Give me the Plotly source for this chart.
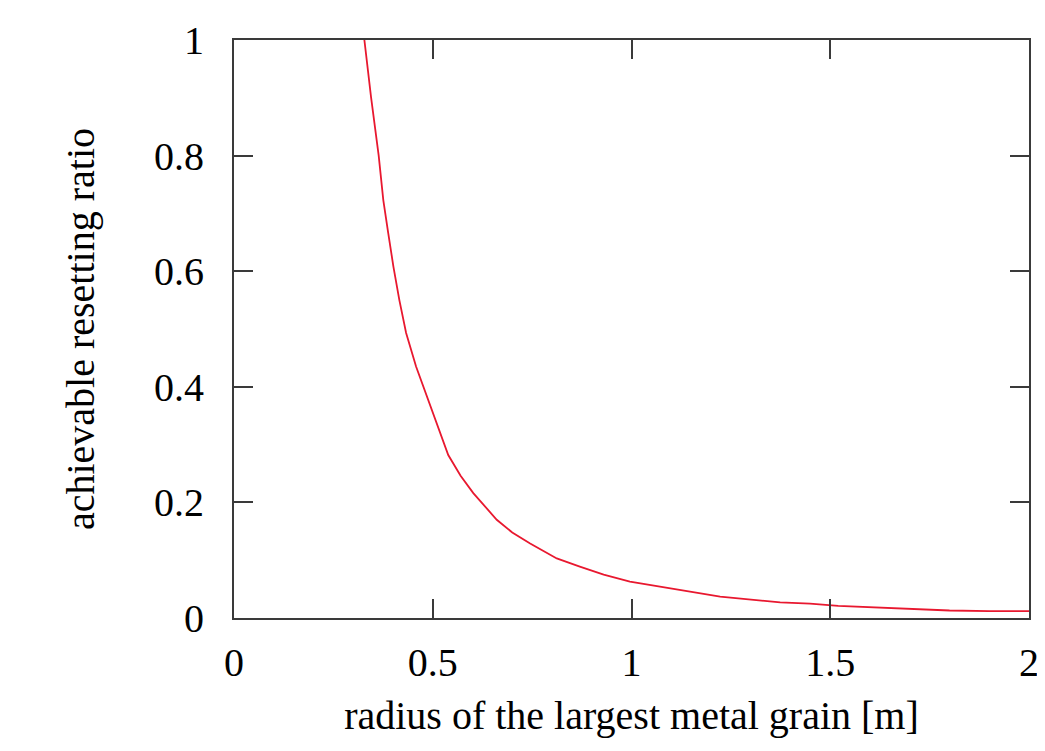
import plotly.graph_objects as go

radius = [0.328, 0.345, 0.364, 0.3756, 0.388, 0.401, 0.416, 0.433, 0.458, 0.489, 0.518,
          0.539, 0.570, 0.602, 0.661, 0.700, 0.745, 0.812, 0.870, 0.930, 0.996, 1.1,
          1.223, 1.374, 1.449, 1.52, 1.65, 1.8, 1.9, 2.0]
ratio = [1.0, 0.9, 0.8, 0.723, 0.666, 0.608, 0.550, 0.493, 0.435, 0.377, 0.320,
         0.282, 0.246, 0.216, 0.170, 0.148, 0.129, 0.103, 0.089, 0.075, 0.063, 0.051,
         0.037, 0.027, 0.025, 0.021, 0.017, 0.013, 0.012, 0.012]

x_ticks = [0, 0.5, 1, 1.5, 2]
x_labels = ["0", "0.5", "1", "1.5", "2"]
y_ticks = [0, 0.2, 0.4, 0.6, 0.8, 1]
y_labels = ["0", "0.2", "0.4", "0.6", "0.8", "1"]

font = dict(family="Liberation Serif, Times New Roman, serif", size=40, color="black")

fig = go.Figure()
fig.add_trace(go.Scatter(x=radius, y=ratio, mode="lines",
                         line=dict(color="#e8182f", width=1.8),
                         showlegend=False, hoverinfo="skip"))

axis_common = dict(showline=True, linecolor="#3a3a3a", linewidth=2, mirror="ticks",
                   ticks="inside", tickcolor="#3a3a3a", tickwidth=2, automargin=False,
                   showgrid=False, zeroline=False, tickfont=font)

fig.update_xaxes(range=[0, 2], tickvals=x_ticks, ticktext=x_labels, ticklen=19,
                 ticklabelstandoff=8,
                 title=dict(text="radius of the largest metal grain [m]", font=font, standoff=17),
                 **axis_common)
fig.update_yaxes(range=[0, 1], tickvals=y_ticks, ticktext=y_labels, ticklen=19,
                 ticklabelstandoff=20,
                 title=dict(text="achievable resetting ratio", font=font, standoff=47),
                 **axis_common)

fig.update_layout(width=1037, height=743, margin=dict(l=226, r=16, t=32, b=133),
                  paper_bgcolor="white", plot_bgcolor="white", font=font)

fig.write_html("out.html")
